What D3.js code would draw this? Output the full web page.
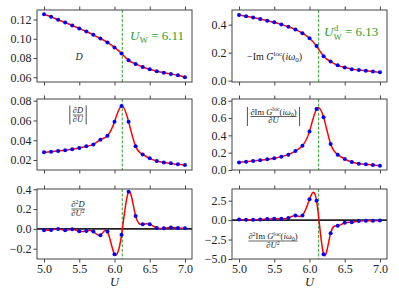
<!DOCTYPE html>
<html>
<head>
<meta charset="utf-8">
<script src="https://cdn.jsdelivr.net/npm/d3@7"></script>
<style>
  body { margin: 0; background: #fff; }
  text { font-family: "Liberation Serif", "DejaVu Serif", serif; fill: #222; }
</style>
</head>
<body>
<div id="chart"></div>
<script>
// values
const U = [5.0, 5.1, 5.2, 5.3, 5.4, 5.5, 5.6, 5.7, 5.8, 5.9, 6.0,
           6.1, 6.2, 6.3, 6.4, 6.5, 6.6, 6.7, 6.8, 6.9, 7.0];
const D = [0.1255, 0.1228, 0.1197, 0.1169, 0.1138, 0.1107, 0.1076, 0.1041, 0.1003, 0.0962, 0.0910,
           0.0848, 0.0776, 0.0738, 0.0707, 0.0683, 0.0662, 0.0648, 0.0634, 0.0621, 0.0600];
const imG = [0.470, 0.461, 0.451, 0.441, 0.429, 0.417, 0.402, 0.385, 0.366, 0.339, 0.303,
             0.247, 0.175, 0.136, 0.109, 0.094, 0.082, 0.075, 0.070, 0.065, 0.060];
const dD = [0.0278, 0.0284, 0.0291, 0.0298, 0.0308, 0.0321, 0.0338, 0.0358, 0.0406, 0.0446, 0.0588,
            0.0746, 0.0588, 0.0338, 0.0257, 0.0217, 0.0190, 0.0176, 0.0166, 0.0156, 0.0150];
const dImG = [0.088, 0.096, 0.104, 0.112, 0.123, 0.135, 0.154, 0.177, 0.219, 0.281, 0.446,
              0.704, 0.608, 0.300, 0.177, 0.127, 0.092, 0.073, 0.065, 0.058, 0.050];
const d2D = [-0.013, -0.010, 0.000, -0.013, -0.003, -0.024, -0.020, -0.027, -0.064, -0.027, -0.255,
             -0.060, 0.376, 0.131, 0.047, 0.047, 0.010, 0.007, 0.013, 0.010, 0.007];
const d2ImG = [0.09, 0.04, 0.04, 0.09, 0.13, 0.17, 0.17, 0.26, 0.60, 0.60, 2.67,
               2.50, -4.40, -1.68, -0.73, -0.34, -0.26, -0.13, -0.09, -0.09, -0.04];
const uW = 6.11;
const uWd = 6.13;
const xTicks = [5.0, 5.5, 6.0, 6.5, 7.0];

const width = 399;
const height = 299;
const colX = [37, 232];
const panelW = 155;
const rowTop = [10, 99, 189];
const rowBot = [82, 170, 259];
const serif = "'Liberation Serif', 'DejaVu Serif', serif";

const panels = [
  { vals: D, col: 0, row: 0, dom: [0.0551, 0.1299], ticks: [0.06, 0.08, 0.10, 0.12], fmt: ".2f", vline: uW },
  { vals: imG, col: 1, row: 0, dom: [-0.01, 0.505], ticks: [0.0, 0.2, 0.4], fmt: ".1f", vline: uWd },
  { vals: dD, col: 0, row: 1, dom: [0.0099, 0.0817], ticks: [0.02, 0.04, 0.06, 0.08], fmt: ".2f", vline: uW },
  { vals: dImG, col: 1, row: 1, dom: [0, 0.82], ticks: [0.0, 0.2, 0.4, 0.6, 0.8], fmt: ".1f", vline: uWd },
  { vals: d2D, col: 0, row: 2, dom: [-0.304, 0.403], ticks: [-0.2, 0.0, 0.2, 0.4], fmt: ".1f", vline: uW, zero: true },
  { vals: d2ImG, col: 1, row: 2, dom: [-5.0, 4.0], ticks: [-5.0, -2.5, 0.0, 2.5], fmt: ".1f", vline: uWd, zero: true }
];

const svg = d3.select("#chart")
  .append("svg")
  .attr("width", width)
  .attr("height", height);

const x = d3.scaleLinear().domain([4.9, 7.1]).range([0, panelW]);

panels.forEach((p) => {
  const h = rowBot[p.row] - rowTop[p.row];
  const y = d3.scaleLinear().domain(p.dom).range([h, 0]);
  const g = svg.append("g")
    .attr("transform", `translate(${colX[p.col]},${rowTop[p.row]})`);

  if (p.zero) {
    g.append("line")
      .attr("x1", 0).attr("x2", panelW)
      .attr("y1", y(0)).attr("y2", y(0))
      .attr("stroke", "#222")
      .attr("stroke-width", 1.6);
  }

  g.append("line")
    .attr("x1", x(p.vline)).attr("x2", x(p.vline))
    .attr("y1", 0).attr("y2", h)
    .attr("stroke", "#2ca02c")
    .attr("stroke-width", 1)
    .attr("stroke-dasharray", "3,1.6");

  const pts = U.map((u, i) => [u, p.vals[i]]);

  const line = d3.line()
    .x((d) => x(d[0]))
    .y((d) => y(d[1]))
    .curve(d3.curveNatural);

  g.append("path")
    .datum(pts)
    .attr("d", line)
    .attr("fill", "none")
    .attr("stroke", "red")
    .attr("stroke-width", 1.5);

  g.selectAll("circle")
    .data(pts)
    .enter()
    .append("circle")
    .attr("cx", (d) => x(d[0]))
    .attr("cy", (d) => y(d[1]))
    .attr("r", 2)
    .attr("fill", "blue");

  g.append("rect")
    .attr("width", panelW)
    .attr("height", h)
    .attr("fill", "none")
    .attr("stroke", "#444")
    .attr("stroke-width", 1);

  const yAxis = g.append("g")
    .call(d3.axisLeft(y).tickValues(p.ticks).tickFormat(d3.format(p.fmt)).tickSize(3.5).tickPadding(2));
  const bottom = g.append("g")
    .attr("transform", `translate(0,${h})`)
    .call(d3.axisBottom(x).tickValues(xTicks)
      .tickFormat(p.row === 2 ? d3.format(".1f") : () => "")
      .tickSize(3.5).tickPadding(2));
  const top = g.append("g")
    .call(d3.axisTop(x).tickValues(xTicks).tickFormat(() => "").tickSize(3.5));

  [yAxis, bottom, top].forEach((a) => {
    a.attr("font-family", serif).attr("font-size", 12);
    a.select(".domain").remove();
    a.selectAll("line").attr("stroke", "#444");
    a.selectAll("text")
      .style("font-size", "12px")
      .style("font-family", serif)
      .attr("fill", "#222");
  });

  if (p.row === 2) {
    g.append("text")
      .attr("x", panelW / 2)
      .attr("y", h + 26.5)
      .attr("text-anchor", "middle")
      .style("font-size", "12.5px")
      .style("font-style", "italic")
      .text("U");
  }
});

// green U_W labels
const green = "#2ca02c";
const lab1 = svg.append("text")
  .attr("x", 130).attr("y", 40)
  .style("font-size", "13px")
  .style("fill", green);
lab1.append("tspan").style("font-style", "italic").style("fill", green).text("U");
lab1.append("tspan").style("font-size", "9px").attr("dy", 3).style("fill", green).text("W");
lab1.append("tspan").attr("dy", -3).style("fill", green).text(" = 6.11");

const lab2x = 324;
svg.append("text")
  .attr("x", lab2x).attr("y", 36)
  .style("font-size", "13px").style("font-style", "italic")
  .style("fill", green).text("U");
svg.append("text")
  .attr("x", lab2x + 10).attr("y", 30.5)
  .style("font-size", "8.5px")
  .style("fill", green).text("d");
svg.append("text")
  .attr("x", lab2x + 9.5).attr("y", 40)
  .style("font-size", "8.5px")
  .style("fill", green).text("W");
svg.append("text")
  .attr("x", lab2x + 21).attr("y", 36)
  .style("font-size", "13px")
  .style("fill", green).text("= 6.13");

// math labels inside panels
svg.append("text")
  .attr("x", 79).attr("y", 60)
  .attr("text-anchor", "middle")
  .style("font-size", "10px").style("font-style", "italic")
  .text("D");

function imGParts(t, fs, lead, sq) {
  t.append("tspan").text(lead);
  if (sq) t.append("tspan").style("font-size", (fs * 0.7) + "px").attr("dy", -3).text("2");
  t.append("tspan").attr("dy", sq ? 3 : 0).text("Im ");
  t.append("tspan").style("font-style", "italic").text("G");
  t.append("tspan").style("font-size", (fs * 0.7) + "px").attr("dy", -fs * 0.4).text("loc");
  t.append("tspan").attr("dy", fs * 0.4).text("(");
  t.append("tspan").style("font-style", "italic").text("iω");
  t.append("tspan").style("font-size", (fs * 0.7) + "px").attr("dy", 2).text("0");
  t.append("tspan").attr("dy", -2).text(")");
}

const t2 = svg.append("text")
  .attr("x", 247).attr("y", 60)
  .style("font-size", "10px");
imGParts(t2, 10, "−", false);

function fraction(cx, ly, fs, num, den, bars) {
  const n = svg.append("text")
    .attr("x", cx).attr("y", ly - 2)
    .attr("text-anchor", "middle")
    .style("font-size", fs + "px");
  num(n, fs);
  const d = svg.append("text")
    .attr("x", cx).attr("y", ly + fs * 0.8)
    .attr("text-anchor", "middle")
    .style("font-size", fs + "px");
  den(d, fs);
  const w = Math.max(n.node().getComputedTextLength(), d.node().getComputedTextLength());
  svg.append("line")
    .attr("x1", cx - w / 2).attr("x2", cx + w / 2)
    .attr("y1", ly).attr("y2", ly)
    .attr("stroke", "#222").attr("stroke-width", 0.7);
  if (bars) {
    [cx - w / 2 - 3, cx + w / 2 + 3].forEach((bx) => {
      svg.append("line")
        .attr("x1", bx).attr("x2", bx)
        .attr("y1", ly - fs - 1).attr("y2", ly + fs + 1)
        .attr("stroke", "#222").attr("stroke-width", 0.8);
    });
  }
}

const dNum = (sq) => (t, fs) => {
  t.append("tspan").text("∂");
  if (sq) t.append("tspan").style("font-size", (fs * 0.7) + "px").attr("dy", -3).text("2");
  t.append("tspan").attr("dy", sq ? 3 : 0).style("font-style", "italic").text("D");
};
const dDen = (sq) => (t, fs) => {
  t.append("tspan").text("∂");
  t.append("tspan").style("font-style", "italic").text("U");
  if (sq) t.append("tspan").style("font-size", (fs * 0.7) + "px").attr("dy", -3).text("2");
};

fraction(78, 115, 8.5, dNum(false), dDen(false), true);
fraction(273.5, 116.5, 8.5, (t, fs) => imGParts(t, fs, "∂", false), dDen(false), true);
fraction(78, 209, 8.5, dNum(true), dDen(true), false);
fraction(273, 241, 8.5, (t, fs) => imGParts(t, fs, "∂", true), dDen(true), false);
</script>
</body>
</html>
